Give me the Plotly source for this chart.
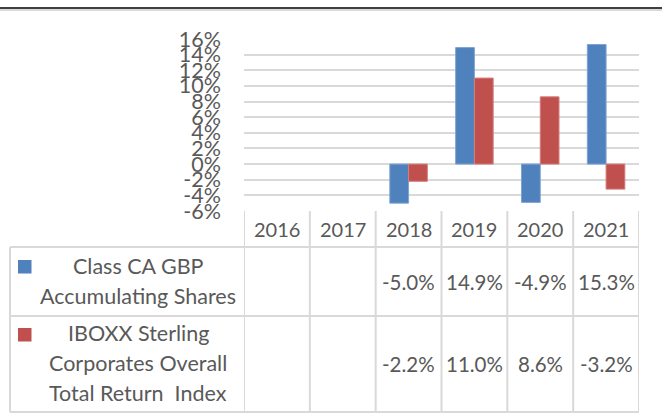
import plotly.graph_objects as go

# ---- data ----
years = ["2016", "2017", "2018", "2019", "2020", "2021"]
series_names = ["Class CA GBP\nAccumulating Shares",
                "IBOXX Sterling\nCorporates Overall\nTotal Return  Index"]
class_ca = [None, None, -5.0, 14.9, -4.9, 15.3]
iboxx = [None, None, -2.2, 11.0, 8.6, -3.2]
series_values = [class_ca, iboxx]
series_colors = ["#4F81BD", "#C0504D"]
series_line_colors = ["#7EA3D3", "#D27F7D"]
y_tickvals = [-6, -4, -2, 0, 2, 4, 6, 8, 10, 12, 14, 16]
y_ticktext = [f"{v}%" for v in y_tickvals]

W, H = 662, 419
TXT = "#595959"
GRID = "#D9D9D9"
FONT = "Lato"


def px(x):
    return x / W


def py(y):
    return 1 - y / H


fig = go.Figure()
for name, vals, col, lcol in zip(series_names, series_values, series_colors, series_line_colors):
    fig.add_trace(go.Bar(
        x=years, y=vals, name=name.replace("\n", " "),
        marker=dict(color=col, line=dict(color=lcol, width=1)),
        showlegend=False, hoverinfo="skip",
    ))

plot_left, plot_right = 244, 639
plot_top, plot_bottom = 39, 211
row_lines = [247, 316, 412]
table_left = 10

fig.update_layout(
    template="none",
    width=W, height=H,
    margin=dict(l=0, r=0, t=0, b=0, pad=0, autoexpand=False),
    paper_bgcolor="white", plot_bgcolor="white",
    showlegend=False,
    barmode="group", bargap=0.43, bargroupgap=0,
    font=dict(family=FONT, color=TXT, size=20, weight="normal"),
    xaxis=dict(domain=[px(plot_left), px(plot_right)], range=[-0.5, len(years) - 0.5],
               showticklabels=False, showgrid=False, zeroline=False, showline=False,
               type="category", fixedrange=True, automargin=False),
    yaxis=dict(domain=[py(plot_bottom), py(plot_top)], range=[-6, 16],
               tickmode="array", tickvals=y_tickvals, ticktext=y_ticktext,
               showgrid=True, gridcolor=GRID, gridwidth=1.5, zeroline=False,
               showline=False, ticks="", ticklabelstandoff=22, automargin=False,
               tickfont=dict(family=FONT, size=21.5, color=TXT, weight="normal"), fixedrange=True),
)

shapes = []
# top black rule with grey shadow
shapes.append(dict(type="line", xref="paper", yref="paper", x0=0, x1=1, y0=py(8), y1=py(8),
                   line=dict(color="black", width=1.5)))
shapes.append(dict(type="rect", xref="paper", yref="paper", x0=0, x1=1, y0=py(11), y1=py(9),
                   line=dict(width=0), fillcolor="#DADADA"))
# table horizontal lines
for yl in row_lines:
    shapes.append(dict(type="line", xref="paper", yref="paper", x0=px(table_left), x1=px(plot_right),
                       y0=py(yl), y1=py(yl), line=dict(color=GRID, width=2)))
# table left border
shapes.append(dict(type="line", xref="paper", yref="paper", x0=px(table_left), x1=px(table_left),
                   y0=py(row_lines[0]), y1=py(row_lines[-1]), line=dict(color=GRID, width=2)))
# column boundaries (category edges on the x axis)
for i in range(len(years) + 1):
    shapes.append(dict(type="line", xref="x", yref="paper", x0=i - 0.5, x1=i - 0.5,
                       y0=py(plot_bottom), y1=py(row_lines[-1]), line=dict(color=GRID, width=2)))
# legend keys
key_tops = [260, 328]
for col, kt in zip(series_colors, key_tops):
    shapes.append(dict(type="rect", xref="paper", yref="paper", x0=px(18), x1=px(31.5),
                       y0=py(kt + 13.5), y1=py(kt), line=dict(width=0), fillcolor=col))
fig.update_layout(shapes=shapes)

ann = []
# header row: years (category index positions on the x axis)
for i, yr in enumerate(years):
    ann.append(dict(x=i, y=py(229), xref="x", yref="paper", text=yr, showarrow=False,
                    font=dict(family=FONT, size=20, color=TXT), xanchor="center", yanchor="middle"))
# values
row_centers = [282, 364]
for vals, rc in zip(series_values, row_centers):
    for i, v in enumerate(vals):
        if v is None:
            continue
        ann.append(dict(x=i, y=py(rc), xref="x", yref="paper", text=f"{v:.1f}%", showarrow=False,
                        font=dict(family=FONT, size=20.5, color=TXT), xanchor="center", yanchor="middle"))
# series names (legend column)
name_line_y = [[266, 296], [333, 363, 393]]
for name, ys in zip(series_names, name_line_y):
    for line, yy in zip(name.split("\n"), ys):
        ann.append(dict(x=px(138), y=py(yy), xref="paper", yref="paper",
                        text=line.replace("  ", " \u00a0"), showarrow=False,
                        font=dict(family=FONT, size=21.5, color=TXT), xanchor="center", yanchor="middle"))
fig.update_layout(annotations=ann)

# the page's default body margin would shift the figure; remove it
fig.write_html("out.html", config={"displayModeBar": False},
               post_script="document.body.style.margin='0px';")
